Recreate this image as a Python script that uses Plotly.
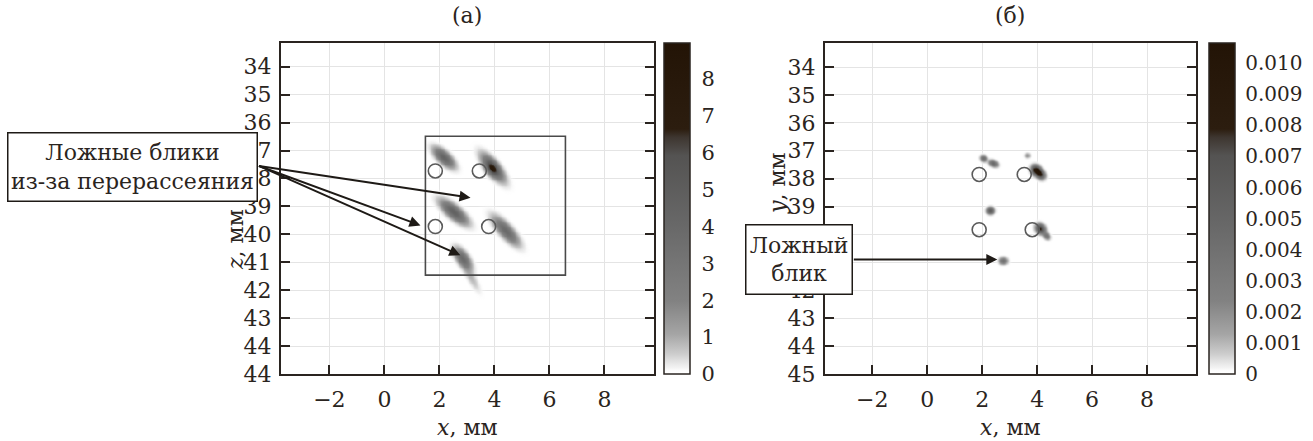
import numpy as np
import plotly.graph_objects as go

# ---------------- tick data ----------------
x_tickvals = [-2, 0, 2, 4, 6, 8]
a_y_tickvals = [34, 35, 36, 37, 38, 39, 40, 41, 42, 43, 44, 45]
a_y_ticktext = ["34", "35", "36", "37", "38", "39", "40", "41", "42", "43", "44", "44"]
b_y_tickvals = [34, 35, 36, 37, 38, 39, 40, 41, 42, 43, 44, 45]
b_y_ticktext = ["34", "35", "36", "37", "38", "39", "40", "41", "42", "43", "44", "45"]
a_cbar_vals = [0, 1, 2, 3, 4, 5, 6, 7, 8]
b_cbar_vals = [0, 0.001, 0.002, 0.003, 0.004, 0.005, 0.006, 0.007, 0.008, 0.009, 0.010]
b_cbar_text = ["0", "0.001", "0.002", "0.003", "0.004", "0.005", "0.006", "0.007", "0.008", "0.009", "0.010"]

# ---------------- true scatterer positions (open circles) ----------------
a_circ_x = [1.85, 3.45, 1.85, 3.79]
a_circ_z = [37.73, 37.73, 39.72, 39.72]
b_circ_x = [1.89, 3.53, 1.89, 3.82]
b_circ_y = [37.85, 37.85, 39.83, 39.83]

# ---------------- image spots ----------------
# panel (a): streaks (centre x, centre z, peak, long sigma, short sigma, angle deg)
a_spot_x = [2.15, 3.93, 3.90, 2.51, 4.40, 2.84, 3.15]
a_spot_z = [37.24, 37.60, 37.64, 39.19, 39.86, 40.86, 41.55]
a_spot_peak = [4.4, 4.3, 3.6, 4.6, 3.9, 3.9, 0.8]
a_spot_long = [0.30, 0.38, 0.20, 0.38, 0.40, 0.28, 0.35]
a_spot_short = [0.13, 0.14, 0.13, 0.14, 0.14, 0.13, 0.10]
a_spot_angle = [42, 50, 55, 39, 47, 55, 60]

# panel (б): compact spots (centre x, centre y, peak, sigma long, sigma short, angle)
b_spot_x = [2.04, 2.40, 3.96, 4.12, 3.64, 2.29, 4.11, 4.34, 2.76]
b_spot_y = [37.27, 37.45, 37.70, 37.85, 37.17, 39.14, 39.79, 40.05, 40.94]
b_spot_peak = [0.0042, 0.0050, 0.0110, 0.0072, 0.0018, 0.0060, 0.0080, 0.0036, 0.0040]
b_spot_long = [0.08, 0.11, 0.12, 0.11, 0.07, 0.09, 0.12, 0.09, 0.10]
b_spot_short = [0.07, 0.07, 0.10, 0.09, 0.06, 0.08, 0.10, 0.07, 0.08]
b_spot_angle = [30, 20, 45, 45, 0, 0, 45, 45, 0]

# rectangle of panel (a)
a_rect = [1.49, 36.49, 6.58, 41.46]


def build_field(xg, yg, cx, cy, pk, sl, ss, ang):
    X, Y = np.meshgrid(xg, yg)
    Z = np.zeros_like(X)
    for x0, y0, p, l, s, a in zip(cx, cy, pk, sl, ss, ang):
        th = np.radians(a)
        dx, dy = X - x0, Y - y0
        u = dx * np.cos(th) + dy * np.sin(th)
        v = -dx * np.sin(th) + dy * np.cos(th)
        Z += p * np.exp(-0.5 * ((u / l) ** 2 + (v / s) ** 2))
    return Z


ax_grid = np.arange(0.5, 6.5, 0.03)
az_grid = np.arange(35.5, 43.0, 0.03)
a_field = build_field(ax_grid, az_grid, a_spot_x, a_spot_z, a_spot_peak,
                      a_spot_long, a_spot_short, a_spot_angle)
bx_grid = np.arange(1.0, 5.5, 0.02)
by_grid = np.arange(36.5, 41.8, 0.02)
b_field = build_field(bx_grid, by_grid, b_spot_x, b_spot_y, b_spot_peak,
                      b_spot_long, b_spot_short, b_spot_angle)

cscale = [
    [0.0, "rgba(255,255,255,0)"],
    [0.02, "rgba(240,240,240,0.9)"],
    [0.06, "rgb(205,205,205)"],
    [0.12, "rgb(165,165,165)"],
    [0.22, "rgb(130,130,130)"],
    [0.45, "rgb(104,104,104)"],
    [0.66, "rgb(84,83,82)"],
    [0.715, "rgb(62,54,48)"],
    [0.74, "rgb(44,29,15)"],
    [1.0, "rgb(35,20,6)"],
]

FONT = "DejaVu Serif"
INK = "#2a2420"
W, H = 1313, 441
T, B = 43, 67
PH = H - T - B
A_DOM = [281 / W, 654 / W]
B_DOM = [825 / W, 1196 / W]

fig = go.Figure()

fig.add_trace(go.Heatmap(
    x=ax_grid, y=az_grid, z=a_field, zmin=0, zmax=8.97, zsmooth="best",
    colorscale=cscale, xaxis="x", yaxis="y", hoverinfo="skip",
    colorbar=dict(x=664 / W, xanchor="left", xpad=0, y=0.5, yanchor="middle",
                  len=1.0, lenmode="fraction", ypad=0, thickness=26,
                  outlinecolor=INK, outlinewidth=1.5,
                  tickvals=a_cbar_vals, ticks="outside", ticklen=7,
                  tickcolor="rgba(0,0,0,0)",
                  tickfont=dict(family=FONT, size=21, color=INK)),
))
fig.add_trace(go.Heatmap(
    x=bx_grid, y=by_grid, z=b_field, zmin=0, zmax=0.01065, zsmooth="best",
    colorscale=cscale, xaxis="x2", yaxis="y2", hoverinfo="skip",
    colorbar=dict(x=1209 / W, xanchor="left", xpad=0, y=0.5, yanchor="middle",
                  len=1.0, lenmode="fraction", ypad=0, thickness=26,
                  outlinecolor=INK, outlinewidth=1.5,
                  tickvals=b_cbar_vals, ticktext=b_cbar_text, ticks="outside",
                  ticklen=6, tickcolor="rgba(0,0,0,0)",
                  tickfont=dict(family=FONT, size=20, color=INK)),
))

circ_marker = dict(symbol="circle-open", size=14, color="#5a5a5a", line=dict(width=1.6))
fig.add_trace(go.Scatter(x=a_circ_x, y=a_circ_z, mode="markers", marker=circ_marker,
                         xaxis="x", yaxis="y", showlegend=False, hoverinfo="skip"))
fig.add_trace(go.Scatter(x=b_circ_x, y=b_circ_y, mode="markers", marker=circ_marker,
                         xaxis="x2", yaxis="y2", showlegend=False, hoverinfo="skip"))

axis_common = dict(
    showline=True, linecolor=INK, linewidth=2, ticks="inside", ticklen=9,
    tickwidth=1.5, tickcolor=INK, showgrid=True, gridcolor="#e4e4e4", gridwidth=1,
    zeroline=False, tickfont=dict(family=FONT, size=22, color=INK),
)

fig.update_layout(
    width=W, height=H, margin=dict(l=0, r=0, t=T, b=B),
    paper_bgcolor="white", plot_bgcolor="white", showlegend=False,
    xaxis=dict(domain=A_DOM, range=[-3.76, 9.8], tickvals=x_tickvals, anchor="y",
               mirror=True, ticklabelstandoff=5, **axis_common),
    yaxis=dict(domain=[0, 1], range=[45, 33.15], tickvals=a_y_tickvals,
               ticktext=a_y_ticktext, anchor="x", mirror="allticks",
               ticklabelstandoff=3, **axis_common),
    xaxis2=dict(domain=B_DOM, range=[-3.72, 9.78], tickvals=x_tickvals, anchor="y2",
                mirror=True, ticklabelstandoff=5, **axis_common),
    yaxis2=dict(domain=[0, 1], range=[45, 33.14], tickvals=b_y_tickvals,
                ticktext=b_y_ticktext, anchor="x2", mirror="allticks",
                ticklabelstandoff=3, **axis_common),
)

fig.add_shape(type="rect", xref="x", yref="y", x0=a_rect[0], y0=a_rect[1],
              x1=a_rect[2], y1=a_rect[3], line=dict(color="#4a4a4a", width=1.6))


def py(p):
    return (H - B - p) / PH


txt = dict(family=FONT, size=22, color=INK)
lbl = dict(xref="paper", yref="paper", showarrow=False, xanchor="center", yanchor="middle")
ann = []
# titles
ann.append(dict(text="(а)", x=467 / W, y=py(15), font=txt, **lbl))
ann.append(dict(text="(б)", x=1010 / W, y=py(15), font=txt, **lbl))
# axis titles
ann.append(dict(text="<i>x</i>, мм", x=467 / W, y=py(427), font=txt, **lbl))
ann.append(dict(text="<i>x</i>, мм", x=1010 / W, y=py(427), font=txt, **lbl))
ann.append(dict(text="<i>z</i>, мм", x=235 / W, y=py(240), textangle=-90, font=txt, **lbl))
ann.append(dict(text="<i>y</i>, мм", x=777 / W, y=py(183), textangle=-90, font=txt, **lbl))

# arrows panel (a)
arrow_style = dict(showarrow=True, arrowhead=2, arrowsize=1.1, arrowwidth=2, arrowcolor="#1e1a16",
                   axref="pixel", ayref="pixel", text="", standoff=0, startstandoff=0)
ann.append(dict(x=3.13, y=38.69, xref="x", yref="y", ax=-213, ay=-32, **arrow_style))
ann.append(dict(x=1.31, y=39.68, xref="x", yref="y", ax=-163, ay=-60, **arrow_style))
ann.append(dict(x=2.76, y=40.75, xref="x", yref="y", ax=-203, ay=-90, **arrow_style))
# arrow panel (б)
ann.append(dict(x=2.55, y=40.9, xref="x2", yref="y2", ax=-145, ay=0, **arrow_style))

# labelled boxes
ann.append(dict(text="Ложные блики<br>из-за перерассеяния", x=132 / W, y=py(166.5),
                font=txt, bgcolor="white", bordercolor="#1e1a16", borderwidth=1.5,
                borderpad=2, width=244, height=63, align="center", valign="middle", **lbl))
ann.append(dict(text="Ложный<br>блик", x=799 / W, y=py(259),
                font=txt, bgcolor="white", bordercolor="#1e1a16", borderwidth=1.5,
                borderpad=2, width=101, height=64, align="center", valign="middle", **lbl))

fig.update_layout(annotations=ann)
fig.write_html("out.html")
